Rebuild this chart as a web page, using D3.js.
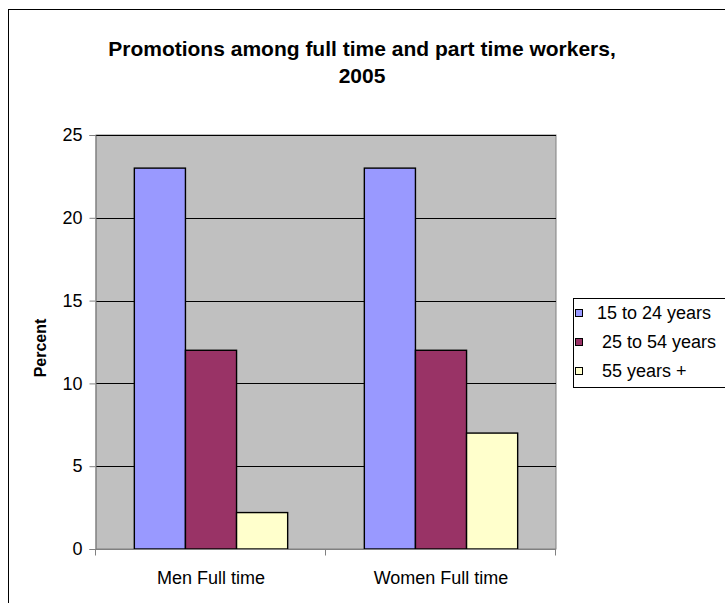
<!DOCTYPE html>
<html>
<head>
<meta charset="utf-8">
<script src="https://cdn.jsdelivr.net/npm/d3@7"></script>
<style>
  body { margin: 0; background: #fff; }
  svg { display: block; font-family: 'Liberation Sans', Arial, sans-serif; }
</style>
</head>
<body>
<svg id="chart" width="725" height="603"></svg>
<script>
const categories = ['Men Full time', 'Women Full time'];
const seriesNames = ['15 to 24 years', '25 to 54 years', '55 years +'];
const legendLabels = ['15 to 24 years', ' 25 to 54 years', ' 55 years +'];
const youngValues = [23, 23];
const middleValues = [12, 12];
const olderValues = [2.2, 7];
const yTicks = [0, 5, 10, 15, 20, 25];
const titleLines = ['Promotions among full time and part time workers,', '2005'];

const colors = ['#9999FF', '#993366', '#FFFFCC'];
const seriesValues = [youngValues, middleValues, olderValues];

const plot = { left: 96, right: 556, top: 135, bottom: 549 };
const fontFamily = "'Liberation Sans', Arial, sans-serif";

const svg = d3.select('#chart');

// outer chart frame (runs off the right and bottom edge)
svg.append('rect')
  .attr('x', 8.5).attr('y', 9.5)
  .attr('width', 740).attr('height', 620)
  .attr('fill', '#fff')
  .attr('stroke', '#000')
  .attr('stroke-width', 1);

svg.append('g')
  .selectAll('text')
  .data(titleLines)
  .enter()
  .append('text')
  .attr('x', 362)
  .attr('y', (d, i) => 56 + i * 27)
  .attr('text-anchor', 'middle')
  .attr('font-size', '21px')
  .attr('font-weight', 'bold')
  .attr('fill', '#000')
  .text((d) => d);

const xScale = d3.scaleBand()
  .domain(categories)
  .range([plot.left, plot.right])
  .padding(0);

const xSub = d3.scaleBand()
  .domain(seriesNames)
  .range([0, xScale.bandwidth()])
  .paddingInner(0)
  .paddingOuter(0.75);

const yScale = d3.scaleLinear()
  .domain([0, 25])
  .range([plot.bottom, plot.top]);

// plot area background
svg.append('rect')
  .attr('x', plot.left)
  .attr('y', plot.top)
  .attr('width', plot.right - plot.left)
  .attr('height', plot.bottom - plot.top)
  .attr('fill', '#C0C0C0')
  .attr('stroke', '#808080')
  .attr('stroke-width', 1);

// gridlines
svg.append('g')
  .selectAll('line')
  .data(yTicks.filter((d) => d > 0))
  .enter()
  .append('line')
  .attr('x1', plot.left)
  .attr('x2', plot.right)
  .attr('y1', (d) => Math.round(yScale(d)) + 0.5)
  .attr('y2', (d) => Math.round(yScale(d)) + 0.5)
  .attr('stroke', '#000')
  .attr('stroke-width', 1);

// bars
const rows = [];
seriesNames.forEach((s, si) => {
  categories.forEach((c, ci) => {
    rows.push({ series: s, cat: c, value: seriesValues[si][ci], color: colors[si] });
  });
});

svg.append('g')
  .selectAll('rect')
  .data(rows)
  .enter()
  .append('rect')
  .attr('x', (d) => xScale(d.cat) + xSub(d.series))
  .attr('y', (d) => yScale(d.value))
  .attr('width', xSub.bandwidth())
  .attr('height', (d) => plot.bottom - yScale(d.value))
  .attr('fill', (d) => d.color)
  .attr('stroke', '#000')
  .attr('stroke-width', 1.4);

// y axis
const yAxis = d3.axisLeft(yScale).tickValues(yTicks).tickSize(6).tickPadding(7);
const yg = svg.append('g')
  .attr('transform', `translate(${plot.left - 0.5}, 0)`)
  .call(yAxis);
yg.select('.domain').attr('stroke', '#808080');
yg.selectAll('.tick line').attr('stroke', '#808080');
yg.selectAll('.tick text')
  .attr('font-size', '18px')
  .attr('fill', '#000')
  .attr('font-family', fontFamily);

// x axis
const xg = svg.append('g')
  .attr('transform', `translate(0, ${plot.bottom + 0.5})`);
xg.append('line')
  .attr('x1', plot.left).attr('x2', plot.right)
  .attr('y1', 0).attr('y2', 0)
  .attr('stroke', '#808080');
xg.selectAll('.sep')
  .data([plot.left, xScale(categories[1]), plot.right])
  .enter()
  .append('line')
  .attr('class', 'sep')
  .attr('x1', (d) => d - 0.5).attr('x2', (d) => d - 0.5)
  .attr('y1', 0).attr('y2', 6)
  .attr('stroke', '#808080');
xg.selectAll('text')
  .data(categories)
  .enter()
  .append('text')
  .attr('x', (d) => xScale(d) + xScale.bandwidth() / 2)
  .attr('y', 34)
  .attr('text-anchor', 'middle')
  .attr('font-size', '18px')
  .attr('fill', '#000')
  .text((d) => d);

// y axis title
svg.append('text')
  .attr('transform', 'translate(46, 348) rotate(-90)')
  .attr('text-anchor', 'middle')
  .attr('font-size', '16px')
  .attr('font-weight', 'bold')
  .attr('fill', '#000')
  .text('Percent');

// legend
const legend = svg.append('g');
legend.append('rect')
  .attr('x', 573.5).attr('y', 298.5)
  .attr('width', 170).attr('height', 89)
  .attr('fill', '#fff')
  .attr('stroke', '#000');

const items = legend.selectAll('.item')
  .data(seriesNames)
  .enter()
  .append('g')
  .attr('class', 'item')
  .attr('transform', (d, i) => `translate(0, ${313 + i * 29})`);

items.append('rect')
  .attr('x', 575.5).attr('y', -3.5)
  .attr('width', 7).attr('height', 7)
  .attr('fill', (d, i) => colors[i])
  .attr('stroke', '#000');

items.append('text')
  .attr('x', 597)
  .attr('y', 6)
  .attr('font-size', '18px')
  .attr('fill', '#000')
  .style('white-space', 'pre')
  .text((d, i) => legendLabels[i]);
</script>
</body>
</html>
